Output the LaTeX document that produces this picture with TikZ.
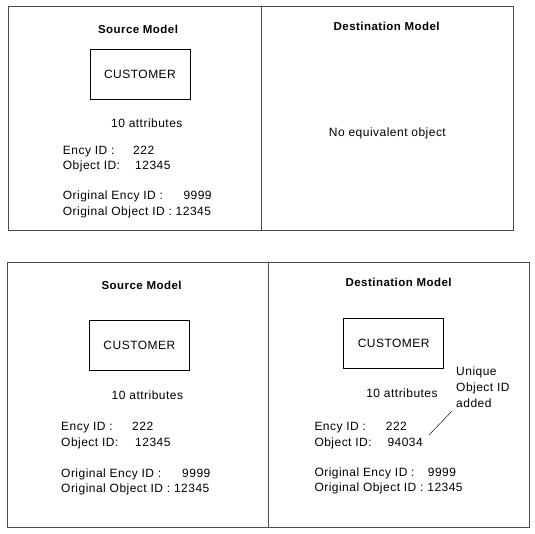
\documentclass[tikz,border=0pt]{standalone}
\usepackage{fontspec}
\setmainfont{Liberation Sans}[LetterSpace=4]
\usetikzlibrary{positioning,calc}

\begin{document}
\begin{tikzpicture}[x=1pt,y=-1pt,
    lbl/.style={inner sep=0pt,anchor=base west,font=\fontsize{12}{14}\selectfont},
    mid/.style={lbl,anchor=base},
    ttl/.style={mid,font=\fontsize{11.5}{14}\selectfont\bfseries},
    entity/.style={draw,line width=0.8pt,minimum width=100pt,minimum height=50pt,inner sep=0pt,font=\fontsize{12}{14}\selectfont},
    panel/.style={draw=black!70,line width=1pt}]

    \useasboundingbox (0,0) rectangle (535,533);

    % upper pair of models
    \draw[panel] (8,6) rectangle (513.5,230);
    \draw[panel] (261,6) -- (261,230);

    \node[ttl] (s1_title) at (138,33) {Source Model};
    \node[entity] (s1_cust) at (140,74) {CUSTOMER};
    \node[mid] (s1_attr) at (146.8,127) {10 attributes};
    \node[lbl] (s1_ency) at (62.7,154) {Ency ID :};
    \node[lbl] (s1_ency_v) at (133,154) {222};
    \node[lbl] (s1_obj) at (62.7,169.5) {Object ID:};
    \node[lbl] (s1_obj_v) at (135,169.5) {12345};
    \node[lbl] (s1_oency) at (62.7,199.5) {Original Ency ID :};
    \node[lbl] (s1_oency_v) at (183.3,199.5) {9999};
    \node[lbl] (s1_oobj) at (62.7,215) {Original Object ID : 12345};

    \node[ttl] (d1_title) at (386.7,30.7) {Destination Model};
    \node[mid] (d1_none) at (387.4,136) {No equivalent object};

    % lower pair of models
    \draw[panel] (7.5,262) rectangle (529.5,527);
    \draw[panel] (268.5,262) -- (268.5,527);

    \node[ttl] (s2_title) at (141.6,289) {Source Model};
    \node[entity] (s2_cust) at (139.4,345.4) {CUSTOMER};
    \node[mid] (s2_attr) at (147.4,399) {10 attributes};
    \node[lbl] (s2_ency) at (61,430) {Ency ID :};
    \node[lbl] (s2_ency_v) at (132,430) {222};
    \node[lbl] (s2_obj) at (61,446) {Object ID:};
    \node[lbl] (s2_obj_v) at (135,446) {12345};
    \node[lbl] (s2_oency) at (61,477) {Original Ency ID :};
    \node[lbl] (s2_oency_v) at (182,477) {9999};
    \node[lbl] (s2_oobj) at (61,492) {Original Object ID : 12345};

    \node[ttl] (d2_title) at (398.6,286) {Destination Model};
    \node[entity] (d2_cust) at (393.7,343) {CUSTOMER};
    \node[mid] (d2_attr) at (402,397) {10 attributes};
    \node[lbl] (d2_ency) at (314.3,430) {Ency ID :};
    \node[lbl] (d2_ency_v) at (385.7,430) {222};
    \node[lbl] (d2_obj) at (314.3,446) {Object ID:};
    \node[lbl] (d2_obj_v) at (387.3,446) {94034};
    \node[lbl] (d2_oency) at (314.3,476.5) {Original Ency ID :};
    \node[lbl] (d2_oency_v) at (427.7,476.5) {9999};
    \node[lbl] (d2_oobj) at (314.3,491.5) {Original Object ID : 12345};

    \node[lbl,anchor=north west,align=left,font=\fontsize{12}{15.8}\selectfont] (d2_note) at (456,366.5) {Unique\\Object ID\\added};
    \coordinate (d2_tick_a) at (429,435);
    \coordinate (d2_tick_b) at (452,411);
    \draw[line width=0.6pt,black!80] (d2_tick_a) -- (d2_tick_b);
\end{tikzpicture}
\end{document}
